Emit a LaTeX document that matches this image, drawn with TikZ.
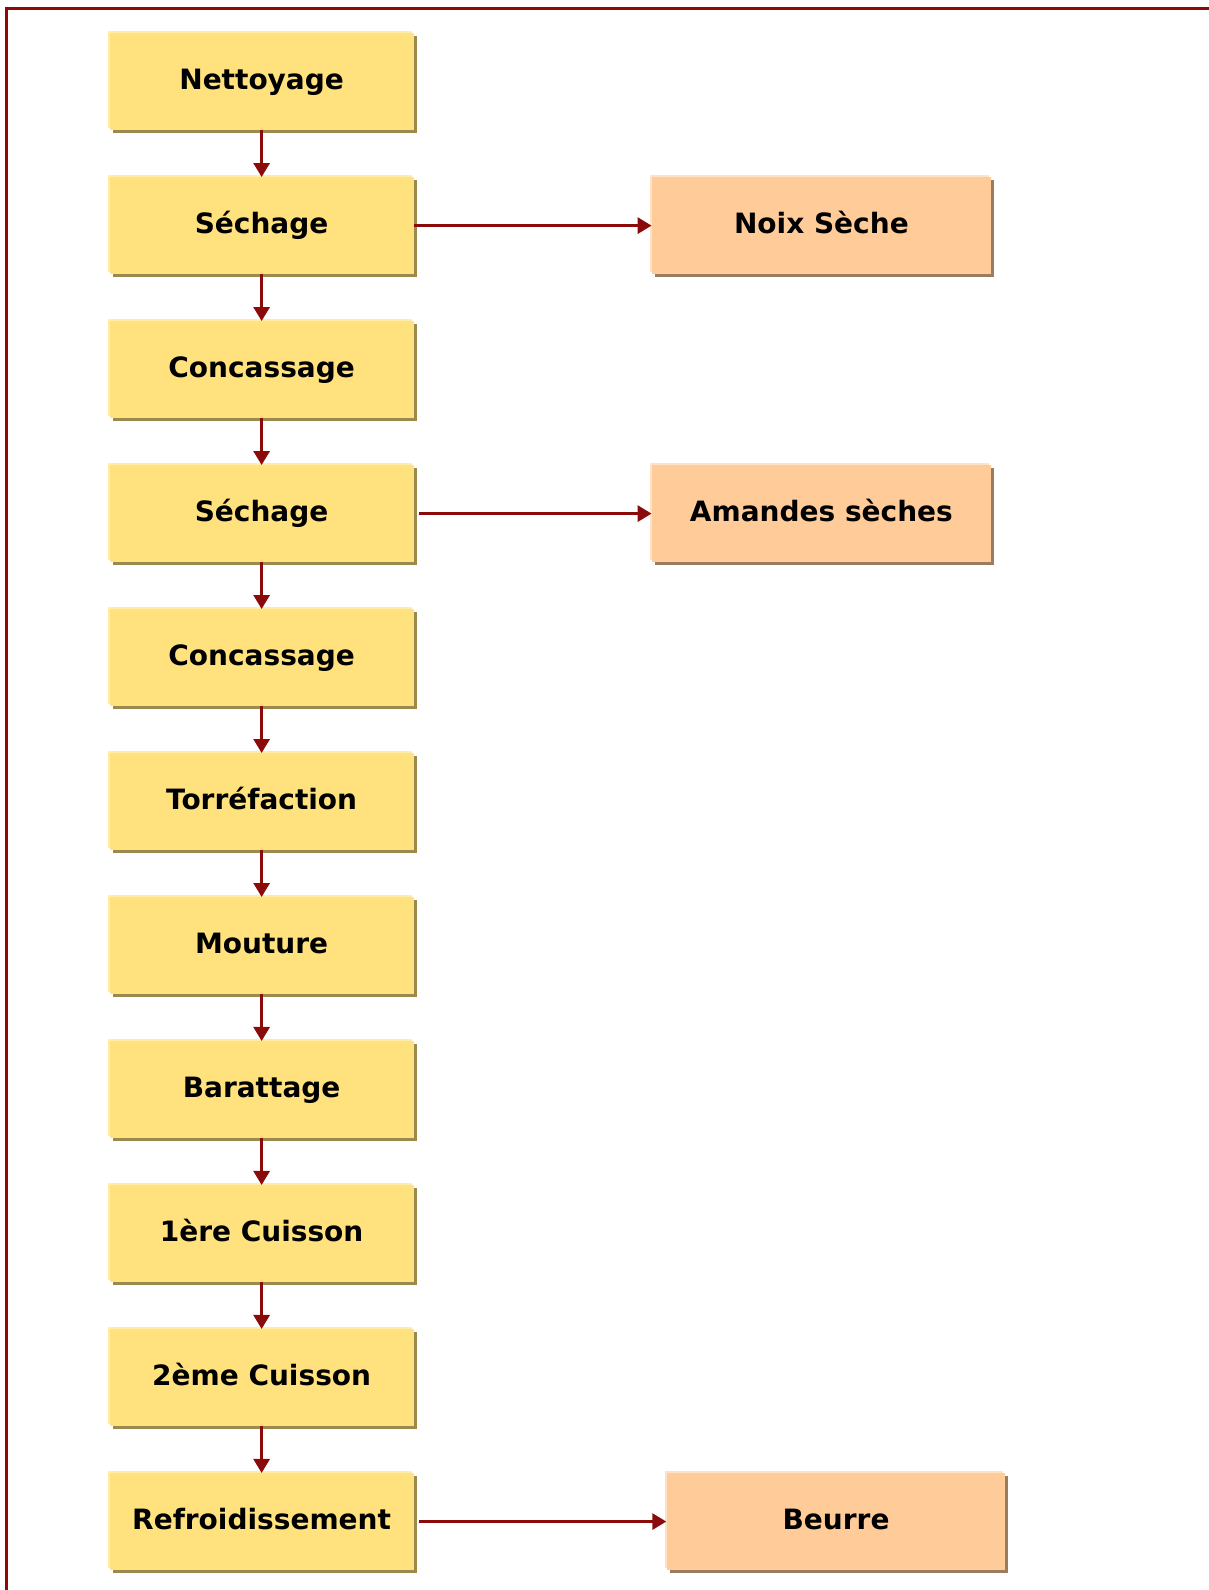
\documentclass[tikz,border=0pt]{standalone}
\usepackage{fontspec}
\setmainfont{DejaVu Sans}
\usetikzlibrary{arrows.meta}

\definecolor{frameRed}{HTML}{8B0A0A}
\definecolor{stepYellow}{HTML}{FFE17E}
\definecolor{stepYellowLight}{HTML}{FFECA6}
\definecolor{stepYellowShadow}{HTML}{9C8A4C}
\definecolor{outOrange}{HTML}{FFCC99}
\definecolor{outOrangeLight}{HTML}{FFE2C6}
\definecolor{outOrangeShadow}{HTML}{9A7C5E}

\tikzset{
  stepbox/.style={fill=stepYellow, minimum width=152pt, minimum height=48.2pt,
    inner sep=0pt, text height=11pt, text depth=3.1pt,
    font=\fontsize{14}{17}\selectfont\bfseries,
    preaction={fill=stepYellowLight, transform canvas={shift={(-1pt,1pt)}}},
    preaction={fill=stepYellowShadow, transform canvas={shift={(1.5pt,-1.5pt)}}}},
  outbox/.style={fill=outOrange, minimum width=169.4pt, minimum height=48.2pt,
    inner sep=0pt, text height=11pt, text depth=3.1pt,
    font=\fontsize{14}{17}\selectfont\bfseries,
    preaction={fill=outOrangeLight, transform canvas={shift={(-1pt,1pt)}}},
    preaction={fill=outOrangeShadow, transform canvas={shift={(1.5pt,-1.5pt)}}}},
  flow/.style={draw=frameRed, line width=1.5pt, -{Triangle[length=7pt,width=8pt]}}
}

\begin{document}
\begin{tikzpicture}[x=0.5071pt,y=-0.5071pt]
\useasboundingbox (0,0) rectangle (1192,1568);
% cadre
\draw[frameRed, line width=1.5pt] (6,1568) -- (6,8.5) -- (1192,8.5);

% etapes
\foreach \name/\txt [count=\i from 0] in {net/Nettoyage, sechA/Séchage, concA/Concassage,
    sechB/Séchage, concB/Concassage, torr/Torréfaction, mout/Mouture, bar/Barattage,
    cuisA/1ère Cuisson, cuisB/2ème Cuisson, refr/Refroidissement}
  \node[stepbox] (\name) at (258,{80.5+142*\i}) {\txt};

% produits
\node[outbox] (noix) at (810,222.5) {Noix Sèche};
\node[outbox] (amand) at (810,506.5) {Amandes sèches};
\node[outbox] (beurre) at (824.5,1500.5) {Beurre};

% fleches
\foreach \a/\b in {net/sechA, sechA/concA, concA/sechB, sechB/concB, concB/torr,
    torr/mout, mout/bar, bar/cuisA, cuisA/cuisB, cuisB/refr}
  \draw[flow] (\a.south) -- (\b.north);
\draw[flow] (sechA.east) -- (noix.west);
\draw[flow, shorten <=2.5pt] (sechB.east) -- (amand.west);
\draw[flow, shorten <=2.5pt] (refr.east) -- (beurre.west);
\end{tikzpicture}
\end{document}
